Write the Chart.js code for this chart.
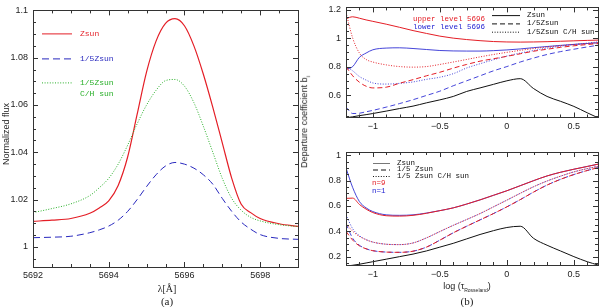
<!DOCTYPE html>
<html>
<head>
<meta charset="utf-8">
<script src="https://cdn.jsdelivr.net/npm/chart.js@4"></script>
<style>
  body { margin: 0; background: #fff; }
  #wrap { position: relative; width: 600px; height: 307px; overflow: hidden; font-family: "Liberation Sans", sans-serif; color: #222; }
  canvas { position: absolute; }
  .lbl { position: absolute; white-space: nowrap; font-size: 9px; transform: translate(-50%, -50%); }
  .rot { transform: translate(-50%, -50%) rotate(-90deg); }
  .serif { font-family: "Liberation Serif", serif; font-size: 11px; }
</style>
</head>
<body>
<div id="wrap">
  <canvas id="chartA" width="300" height="285" style="left:0;top:0;width:300px;height:285px"></canvas>
  <canvas id="chartTop" width="300" height="138" style="left:300px;top:-3px;width:300px;height:138px"></canvas>
  <canvas id="chartBottom" width="300" height="147" style="left:300px;top:140px;width:300px;height:147px"></canvas>

  <div class="lbl rot" style="left:6px;top:134px">Normalized flux</div>
  <div class="lbl serif" style="left:167px;top:288px;font-size:10px">λ[Å]</div>
  <div class="lbl serif" style="left:167px;top:301px">(a)</div>
  <div class="lbl rot" style="left:305px;top:122px">Departure coefficient b<sub style="font-size:6px">i</sub></div>
  <div class="lbl" style="left:467px;top:287px">log (τ<sub style="font-size:5px">Rosseland</sub>)</div>
  <div class="lbl serif" style="left:467px;top:301px">(b)</div>
</div>

<script>
// panel (a): line profile around 5696 A
var lambdaA = [5692, 5692.5, 5693, 5693.5, 5693.75, 5694, 5694.25, 5694.5, 5694.75, 5695, 5695.25, 5695.5,
               5695.75, 5696, 5696.25, 5696.5, 5696.75, 5697, 5697.25, 5697.5, 5697.75, 5698, 5698.5, 5699];
var fluxZsun   = [1.0108, 1.0113, 1.0120, 1.0142, 1.0165, 1.0195, 1.0260, 1.0380, 1.0560, 1.0740, 1.0870, 1.0945,
                  1.0965, 1.0935, 1.0850, 1.0730, 1.0590, 1.0440, 1.0290, 1.0180, 1.0145, 1.0120, 1.0098, 1.0087];
var fluxLowZ   = [1.0039, 1.0041, 1.0045, 1.0060, 1.0072, 1.0088, 1.0113, 1.0150, 1.0200, 1.0255, 1.0305, 1.0342,
                  1.0357, 1.0350, 1.0333, 1.0305, 1.0265, 1.0205, 1.0150, 1.0105, 1.0075, 1.0052, 1.0036, 1.0032];
var fluxLowZCH = [1.0145, 1.0162, 1.0182, 1.0217, 1.0250, 1.0290, 1.0350, 1.0430, 1.0520, 1.0600, 1.0662, 1.0703,
                  1.0708, 1.0680, 1.0610, 1.0510, 1.0400, 1.0290, 1.0205, 1.0155, 1.0125, 1.0110, 1.0094, 1.0086];
var xTicksA = [5692, 5694, 5696, 5698];
var yTicksA = [1, 1.02, 1.04, 1.06, 1.08, 1.1];

// panel (b): departure coefficients vs log tau
var logTau = [-1.2, -1.15, -1.1, -1.05, -1.0, -0.9, -0.8, -0.7, -0.6, -0.5, -0.4, -0.3,
              -0.2, -0.1, 0, 0.1, 0.2, 0.3, 0.4, 0.5, 0.6, 0.68];

var upperZsun   = [1.137, 1.150, 1.140, 1.128, 1.118, 1.098, 1.076, 1.053, 1.033, 1.014, 1.000, 0.990,
                   0.982, 0.976, 0.973, 0.972, 0.973, 0.975, 0.978, 0.981, 0.984, 0.986];
var upperLowZ   = [0.800, 0.735, 0.690, 0.662, 0.650, 0.655, 0.683, 0.708, 0.735, 0.760, 0.789, 0.815,
                   0.838, 0.855, 0.872, 0.890, 0.908, 0.922, 0.935, 0.946, 0.955, 0.962];
var upperLowZCH = [1.180, 1.000, 0.895, 0.850, 0.832, 0.812, 0.800, 0.796, 0.800, 0.815, 0.832, 0.850,
                   0.868, 0.885, 0.900, 0.914, 0.927, 0.938, 0.947, 0.955, 0.962, 0.968];
var lowerZsun   = [0.780, 0.800, 0.865, 0.895, 0.918, 0.930, 0.932, 0.927, 0.920, 0.913, 0.910, 0.909,
                   0.909, 0.912, 0.917, 0.924, 0.933, 0.941, 0.949, 0.956, 0.962, 0.967];
var lowerLowZ   = [0.516, 0.470, 0.472, 0.482, 0.492, 0.515, 0.540, 0.567, 0.597, 0.627, 0.665, 0.700,
                   0.735, 0.770, 0.800, 0.832, 0.860, 0.885, 0.905, 0.922, 0.938, 0.950];
var lowerLowZCH = [0.800, 0.770, 0.730, 0.705, 0.685, 0.677, 0.682, 0.692, 0.710, 0.725, 0.750, 0.790,
                   0.820, 0.848, 0.874, 0.895, 0.913, 0.930, 0.943, 0.955, 0.965, 0.973];
var blackTop    = [0.440, 0.447, 0.455, 0.462, 0.470, 0.487, 0.505, 0.522, 0.545, 0.566, 0.590, 0.625,
                   0.650, 0.675, 0.700, 0.715, 0.645, 0.590, 0.556, 0.520, 0.475, 0.440];

var n9Zsun   = [0.660, 0.662, 0.612, 0.575, 0.548, 0.523, 0.520, 0.526, 0.542, 0.563, 0.585, 0.615,
                0.648, 0.684, 0.720, 0.760, 0.800, 0.837, 0.866, 0.890, 0.912, 0.930];
var n9LowZ   = [0.400, 0.330, 0.285, 0.262, 0.247, 0.236, 0.234, 0.243, 0.275, 0.330, 0.388, 0.440,
                0.490, 0.540, 0.593, 0.650, 0.710, 0.765, 0.810, 0.848, 0.880, 0.903];
var n9LowZCH = [0.460, 0.400, 0.360, 0.333, 0.315, 0.298, 0.295, 0.308, 0.348, 0.398, 0.447, 0.493,
                0.540, 0.593, 0.646, 0.700, 0.752, 0.797, 0.835, 0.869, 0.895, 0.913];
var n1Zsun   = [0.900, 0.745, 0.635, 0.585, 0.556, 0.530, 0.526, 0.530, 0.544, 0.563, 0.585, 0.615,
                0.648, 0.684, 0.720, 0.760, 0.800, 0.837, 0.866, 0.890, 0.912, 0.930];
var n1LowZ   = [0.460, 0.345, 0.290, 0.262, 0.247, 0.236, 0.234, 0.243, 0.275, 0.330, 0.388, 0.440,
                0.490, 0.540, 0.593, 0.650, 0.710, 0.765, 0.810, 0.848, 0.880, 0.903];
var n1LowZCH = [0.530, 0.420, 0.365, 0.335, 0.315, 0.298, 0.295, 0.308, 0.348, 0.398, 0.447, 0.493,
                0.540, 0.593, 0.646, 0.700, 0.752, 0.797, 0.835, 0.869, 0.895, 0.913];
var blackBottom = [0.125, 0.132, 0.140, 0.150, 0.160, 0.180, 0.200, 0.220, 0.245, 0.275, 0.305, 0.340,
                   0.375, 0.405, 0.430, 0.440, 0.344, 0.290, 0.245, 0.200, 0.160, 0.134];

var xTicksB = [-1, -0.5, 0, 0.5];
var yTicksTop = [0.6, 0.8, 1, 1.2];
var yTicksBottom = [0.2, 0.4, 0.6, 0.8, 1];

var RED = 'rgb(228,30,38)', BLUE = 'rgba(36,36,210,0.85)', GREEN = 'rgb(40,175,40)', BLACK = '#111';
var DASH = [5, 3], DOT = [1, 1.6];

Chart.defaults.font.family = '"Liberation Sans", sans-serif';
Chart.defaults.font.size = 9;
Chart.defaults.color = '#222';
Chart.defaults.animation = false;

function pts(xs, ys) {
	return xs.map(function(x, i) { return {x: x, y: ys[i]}; });
}

function fmt(v) {
	return String(Math.round(v * 1000) / 1000).replace('-', '\u2212');
}

function series(xs, ys, color, dash, width) {
	return {
		data: pts(xs, ys),
		borderColor: color,
		borderWidth: width || 1,
		borderDash: dash || [],
		pointRadius: 0,
		fill: false,
		cubicInterpolationMode: 'monotone',
		clip: 0
	};
}

// frame with inward ticks on all four sides
var boxTicks = {
	id: 'boxTicks',
	afterDraw: function(chart, args, o) {
		var ctx = chart.ctx, a = chart.chartArea;
		var sx = chart.scales.x, sy = chart.scales.y;
		function isMajor(v, step) { var r = v / step; return Math.abs(r - Math.round(r)) < 1e-6; }
		ctx.save();
		ctx.strokeStyle = '#333';
		ctx.lineWidth = 1;
		ctx.strokeRect(Math.round(a.left) + 0.5, Math.round(a.top) + 0.5, Math.round(a.width), Math.round(a.height));
		ctx.beginPath();
		var v, p, len;
		for (v = Math.ceil(sx.min / o.xMinor - 1e-6) * o.xMinor; v <= sx.max + 1e-9; v += o.xMinor) {
			p = Math.round(sx.getPixelForValue(v)) + 0.5;
			len = isMajor(v, o.xMajor) ? 5 : 3;
			ctx.moveTo(p, a.bottom); ctx.lineTo(p, a.bottom - len);
			ctx.moveTo(p, a.top); ctx.lineTo(p, a.top + len);
		}
		for (v = Math.ceil(sy.min / o.yMinor - 1e-6) * o.yMinor; v <= sy.max + 1e-9; v += o.yMinor) {
			p = Math.round(sy.getPixelForValue(v)) + 0.5;
			len = isMajor(v, o.yMajor) ? 5 : 3;
			ctx.moveTo(a.left, p); ctx.lineTo(a.left + len, p);
			ctx.moveTo(a.right, p); ctx.lineTo(a.right - len, p);
		}
		ctx.stroke();
		ctx.restore();
	}
};

// legend entries drawn inside the plot, positions relative to chart area
var boxLegend = {
	id: 'boxLegend',
	afterDraw: function(chart, args, o) {
		var ctx = chart.ctx, a = chart.chartArea;
		ctx.save();
		ctx.font = o.font;
		ctx.textBaseline = 'middle';
		o.items.forEach(function(it) {
			var y = a.top + it.y;
			if (it.line) {
				ctx.strokeStyle = it.lineColor || it.color;
				ctx.lineWidth = 1;
				ctx.setLineDash(it.dash || []);
				ctx.beginPath();
				ctx.moveTo(a.left + it.line[0], y + 0.5);
				ctx.lineTo(a.left + it.line[1], y + 0.5);
				ctx.stroke();
				ctx.setLineDash([]);
			}
			if (it.text) {
				ctx.fillStyle = it.color;
				ctx.fillText(it.text, a.left + it.x, y);
			}
		});
		ctx.restore();
	}
};

function axes(xr, yr, xTicks, yTicks, yWidth, xHeight, xPad) {
	return {
		x: {
			type: 'linear', min: xr[0], max: xr[1],
			grid: {display: false, drawTicks: false}, border: {display: false},
			afterBuildTicks: function(s) { s.ticks = xTicks.map(function(v) { return {value: v}; }); },
			afterFit: function(s) { s.height = xHeight; },
			ticks: {autoSkip: false, maxRotation: 0, padding: xPad, callback: fmt}
		},
		y: {
			type: 'linear', min: yr[0], max: yr[1],
			grid: {display: false, drawTicks: false}, border: {display: false},
			afterBuildTicks: function(s) { s.ticks = yTicks.map(function(v) { return {value: v}; }); },
			afterFit: function(s) { s.width = yWidth; },
			ticks: {autoSkip: false, padding: 5, callback: fmt}
		}
	};
}

new Chart(document.getElementById('chartA').getContext('2d'), {
	type: 'line',
	data: {
		datasets: [
			series(lambdaA, fluxLowZCH, GREEN, DOT),
			series(lambdaA, fluxLowZ, 'rgb(40,40,190)', [7, 4]),
			series(lambdaA, fluxZsun, RED, [], 1.2)
		]
	},
	options: {
		responsive: false,
		layout: {padding: {left: 0, right: 2, top: 5, bottom: 0}},
		scales: axes([5692, 5699], [0.9915, 1.1], xTicksA, yTicksA, 33, 18, 3),
		plugins: {
			legend: {display: false}, tooltip: {enabled: false},
			boxTicks: {xMajor: 2, xMinor: 0.5, yMajor: 0.02, yMinor: 0.005},
			boxLegend: {
				font: '8px "Liberation Mono", monospace',
				items: [
					{text: 'Zsun', x: 47, y: 23, color: RED, line: [9, 39]},
					{text: '1/5Zsun', x: 47, y: 48, color: 'rgb(40,40,190)', line: [9, 39], dash: [7, 4]},
					{text: '1/5Zsun', x: 47, y: 72, color: GREEN, line: [9, 39], dash: DOT},
					{text: 'C/H sun', x: 47, y: 83, color: GREEN}
				]
			}
		}
	},
	plugins: [boxTicks, boxLegend]
});

new Chart(document.getElementById('chartTop').getContext('2d'), {
	type: 'line',
	data: {
		datasets: [
			series(logTau, blackTop, BLACK),
			series(logTau, upperLowZ, RED, DASH),
			series(logTau, upperLowZCH, RED, DOT),
			series(logTau, upperZsun, RED),
			series(logTau, lowerLowZ, BLUE, DASH),
			series(logTau, lowerLowZCH, BLUE, DOT),
			series(logTau, lowerZsun, BLUE)
		]
	},
	options: {
		responsive: false,
		layout: {padding: {left: 0, right: 2, top: 7, bottom: 0}},
		scales: axes([-1.2, 0.68], [0.442, 1.216], xTicksB, yTicksTop, 46, 17.5, 4),
		plugins: {
			legend: {display: false}, tooltip: {enabled: false},
			boxTicks: {xMajor: 0.5, xMinor: 0.1, yMajor: 0.2, yMinor: 0.05},
			boxLegend: {
				font: '7.5px "Liberation Mono", monospace',
				items: [
					{text: 'upper level 5696', x: 67, y: 12, color: RED},
					{text: 'lower level 5696', x: 67, y: 20, color: 'rgb(36,36,210)'},
					{text: 'Zsun', x: 181, y: 7.7, color: BLACK, line: [146, 174]},
					{text: '1/5Zsun', x: 181, y: 16, color: BLACK, line: [146, 174], dash: DASH},
					{text: '1/5Zsun C/H sun', x: 181, y: 24.3, color: BLACK, line: [146, 174], dash: DOT}
				]
			}
		}
	},
	plugins: [boxTicks, boxLegend]
});

new Chart(document.getElementById('chartBottom').getContext('2d'), {
	type: 'line',
	data: {
		datasets: [
			series(logTau, blackBottom, BLACK),
			series(logTau, n9LowZ, RED, DASH),
			series(logTau, n9LowZCH, RED, DOT),
			series(logTau, n9Zsun, RED),
			series(logTau, n1LowZ, BLUE, DASH),
			series(logTau, n1LowZCH, BLUE, DOT),
			series(logTau, n1Zsun, BLUE)
		]
	},
	options: {
		responsive: false,
		layout: {padding: {left: 0, right: 2, top: 12, bottom: 0}},
		scales: axes([-1.2, 0.68], [0.134, 1.026], xTicksB, yTicksBottom, 46, 22, 4),
		plugins: {
			legend: {display: false}, tooltip: {enabled: false},
			boxTicks: {xMajor: 0.5, xMinor: 0.1, yMajor: 0.2, yMinor: 0.05},
			boxLegend: {
				font: '7.5px "Liberation Mono", monospace',
				items: [
					{text: 'Zsun', x: 51, y: 11, color: BLACK, line: [27, 44], lineColor: '#777'},
					{text: '1/5 Zsun', x: 51, y: 17.5, color: BLACK, line: [27, 44], dash: DASH},
					{text: '1/5 Zsun C/H sun', x: 51, y: 24, color: BLACK, line: [27, 44], dash: DOT},
					{text: 'n=9', x: 26, y: 31, color: RED},
					{text: 'n=1', x: 26, y: 38.7, color: 'rgb(36,36,210)'}
				]
			}
		}
	},
	plugins: [boxTicks, boxLegend]
});
</script>
</body>
</html>
